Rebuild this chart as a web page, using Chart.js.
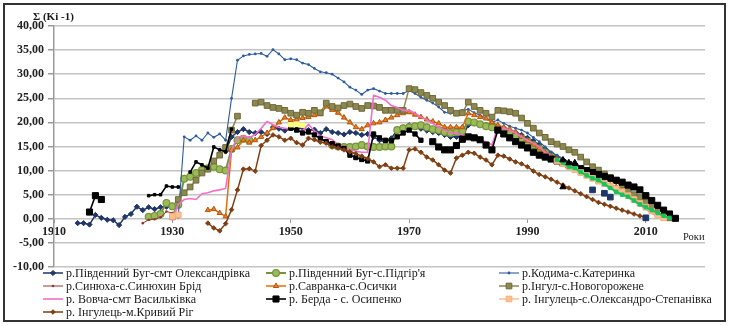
<!DOCTYPE html>
<html>
<head>
<meta charset="utf-8">
<script src="https://cdn.jsdelivr.net/npm/chart.js@4.4.1/dist/chart.umd.min.js"></script>
<style>
  html, body { margin: 0; padding: 0; background: #ffffff; }
  canvas { display: block; }
</style>
</head>
<body>
<canvas id="chart" width="729" height="326"></canvas>
<script>
// Axis labels
const xTickYears = [1910, 1930, 1950, 1970, 1990, 2010];
const yAxisCaption = 'Σ (Ki -1)';
const xAxisCaption = 'Роки';

// Cumulative sums Σ(Ki-1), one value per year from the start year (null = no data)
const oleksandrivkaStart = 1914;
const oleksandrivka = [
  -0.9, -0.9, -1.2, 0.8, 0.2, -0.2, -0.3, -1.3, 0.4, 1.0, 2.5, 1.8, 2.4, 2.0, 2.4, 2.5,
  null, null, null, null, null, null, null, null, null,
  14.0, 17.0, 18.0, 18.6, 18.0, 17.8, 18.0, 17.6, 19.0, 18.7,
  18.3, 18.8, 18.6, 18.9, 18.4, 18.5, 17.8, 18.6, 18.0, 17.8,
  17.5, 18.0, 17.8, 17.4, 17.6, 17.0, 16.3, 16.0, 16.7, 18.4,
  18.9, 19.4, 19.0, 18.7, 18.3, 18.0, 17.8, 17.4, 17.0, 17.0,
  17.2, 19.4, 19.8, 19.6, 19.5, 19.8, 19.2, 18.8, 18.3, 17.9,
  17.4, 16.8, 16.2, 15.4, 14.5, 13.6, 12.8, 12.0
];

const pidhiryaStart = 1926;
const pidhirya = [
  0.4, 0.6, 1.0, 3.3, 2.6, 2.9, 8.3, 8.7, 9.5, 10.1,
  10.5, 10.8, 10.3, 10.0, 14.5, 16.3, 16.6, 16.3,
  null, null, null, null, null, null, null, null, null, null, null, null, null,
  15.3, 15.0, 14.9, 14.9, 15.0, 15.3, 15.0, 14.9, 14.9, 15.0,
  15.0, 18.4, 18.8, 19.0, 19.2, 19.4, 19.0, 18.6, 18.4, 18.0,
  17.8, 18.0, 18.2, 20.2, 20.0, 19.6, 19.2, 19.0, 18.6, 18.2,
  17.8, 17.2, 16.6, 16.0, 15.3, 14.6, 13.8, 13.0
];

const katerynkaStart = 1931;
const katerynka = [
  0.5, 17.0, 16.3, 17.2, 16.3, 17.8, 16.9, 17.6, 16.3, 25.0,
  32.9, 33.8, 34.1, 34.2, 34.3, 33.7, 35.1, 34.2, 33.0, 33.2,
  33.0, 32.3, 32.0, 31.2, 30.5, 30.3, 30.0, 29.2, 28.4, 27.3,
  26.7, 25.8, 26.7, 27.0, 26.5, 26.0, 26.0, 26.0, 26.0, 26.6,
  26.0, 25.2, 24.6, 24.0, 23.2, 22.1, 21.9, 21.9, 22.5, 22.7,
  22.0, 21.5, 20.8, 20.0, 20.5, 19.8, 19.2, 18.8, 18.4, 17.8,
  16.9, 16.0, 14.9, 13.8, 13.2, 12.5, 11.8, 11.2, 10.5, 9.8
];

const syniukhaStart = 1925;
const syniukha = [-0.9, -0.2, -0.1, 0.3, 1.5, 1.2, 0.3];

const osychkyStart = 1936;
const osychky = [
  1.8, 2.0, 1.2, 0.5, 14.3, 14.8, 16.3, 15.8, 16.3, 17.0,
  17.8, 18.8, 20.0, 21.0, 20.5, 20.6, 20.9, 21.1, 21.5, 21.7,
  23.3, 22.6, 22.0, 21.0, 20.0, 19.0, 18.6, 19.4, 19.8, 20.0,
  20.5, 21.0, 21.5, 21.9, 22.1, 21.6, 21.1, 20.6, 20.2, 19.8,
  19.0, 19.0, 19.0, 19.0, 21.9, 21.5, 21.1, 20.8, 20.0, 19.4,
  19.0, 18.6, 18.0, 17.0, 16.2, 15.4, 14.6, 13.7, 13.0, 12.4,
  11.8, 11.2, 10.6, 10.0, 9.4, 8.8, 8.2, 7.6, 7.0, 6.6,
  6.0, 5.2, 4.4, 3.6, 2.8, 2.0, 1.2, 0.4
];

const novohorozheneStart = 1930;
const novohorozhene = [
  0.4, 4.0, 5.4, 6.6, 8.0, 9.5, 10.3, 12.0, 13.2, 14.8,
  18.4, 21.3, null, null, 24.0, 24.2, 23.5, 23.1, 22.9, 22.5,
  21.9, 21.5, 22.1, 21.9, 22.5, 22.0, 24.0, 23.3, 23.0, 23.5,
  23.8, 23.3, 22.9, 23.5, 23.4, 23.1, 22.5, 22.5, 22.5, 22.5,
  27.0, 26.8, 26.2, 25.6, 25.0, 24.2, 23.5, 22.5, 21.9, 22.0,
  24.2, 23.3, 22.5, 21.9, 21.1, 22.5, 22.4, 22.2, 21.9, 20.9,
  19.8, 18.8, 17.8, 16.9, 16.0, 15.5, 15.0, 14.3, 13.8, 12.8,
  11.8, 10.8, 10.1, 9.3, 8.6, 7.9, 7.0, 5.8, 5.0, 4.4,
  3.4, 2.8, 1.6, 0.9, 0.2
];

const vasylkivkaStart = 1930;
const vasylkivka = [
  -0.4, 3.0, 4.0, 4.2, 4.0, 5.2, 5.4, 5.8, 6.0, 6.3,
  14.3, 16.9, 17.2, 16.8, 17.5, 18.8, 20.2, 19.5, 19.0, 18.8,
  18.6, 18.4, 18.3, 19.6, 18.2, 17.2, 16.8, 16.4, 15.4, 15.0,
  14.4, 14.0, 13.8, 13.8, 25.6, 25.2, 24.6, 23.5, 23.1, 22.5,
  22.5, 21.9, 21.1, 20.5, 19.8, 19.0, 18.4, 17.8, 17.8, 17.4,
  17.0, 16.7, 16.3, 16.0, 15.3, 19.0, 18.8, 18.4, 17.8, 17.0,
  16.3, 15.7, 14.9, 13.8, 13.0, 12.3, 11.6, 11.0, 10.4, 9.8,
  9.1, 8.5, 7.9, 7.2, 6.6, 6.0, 5.2, 4.4, 3.6, 2.8,
  2.0, 1.2, 0.4
];

const osypenkoStart = 1916;
const osypenko = [
  1.4, 4.8, 4.0, null, null, null, null, null, null, null,
  4.8, 5.0, 5.0, 6.8, 6.6, 6.6, null, 9.7, 11.8, 11.2,
  10.5, 14.9, 14.3, 13.9, 18.6, null, null, null, null, null,
  null, null, null, null, 18.8, 18.4, 17.8, 18.0, 17.4, 16.7,
  16.0, 15.6, 15.1, 14.6, 13.2, 12.7, 12.3, 12.0, 17.6, 16.8,
  16.3, 16.2, 17.0, 17.8, 18.4, 17.6, 16.3, null, 16.0, 14.9,
  14.3, 14.3, 15.2, 16.5, 17.0, 16.8, 16.4, 15.3, 14.3, 18.4,
  17.6, 16.8, 16.0, 15.3, 14.7, 13.8, 13.2, 12.8, 12.4, 12.0,
  11.6, 11.2, 10.8, 10.4, 10.0, 9.6, 9.2, 8.8, 8.4, 8.0,
  7.6, 7.0, 6.6, 6.0, 4.8, 3.8, 2.8, 1.8, 1.0, 0.1
];

const stepanivkaYears = [1930, 1931, 1932,
  1995, 1996, 1997, 1998, 1999, 2000, 2001, 2002, 2003, 2004,
  2005, 2006, 2007, 2008, 2009, 2010, 2011, 2012, 2013];
const stepanivka = [0.5, 0.8, null,
  12.0, 11.4, 10.8, 10.2, 9.6, 9.0, 8.4, 7.8, 7.3, 6.8,
  6.2, 5.6, 4.8, 4.0, 3.2, 2.4, 1.6, 0.8, 0.2];

const kryvyiRihStart = 1936;
const kryvyiRih = [
  -0.9, -1.9, -2.5, -1.0, 1.9, 6.0, 10.3, 10.4, 9.9, 15.2,
  16.3, 17.4, 17.0, 16.3, 16.7, 15.8, 15.3, 16.7, 16.4, 15.9,
  15.7, 14.9, 14.7, 14.3, 13.9, 13.5, 13.0, 12.5, 11.8, 10.8,
  11.2, 10.5, 10.5, 10.5, 14.3, 14.5, 13.8, 12.8, 12.2, 11.2,
  10.1, 9.5, 12.6, 13.2, 13.8, 13.6, 12.8, 12.2, 11.2, 13.2,
  13.0, 12.4, 11.8, 11.4, 10.8, 9.9, 9.2, 8.7, 8.2, 7.6,
  7.0, 6.4, 5.8, 5.2, 4.6, 4.0, 3.4, 3.0, 2.6, 2.2,
  1.8, 1.4, 1.0, 0.6, 0.2
];

// Further gauges plotted without a legend entry
const greenGaugeStart = 1995;
const greenGauge = [12.2, 11.6, 10.8, 10.5, 9.7, 9.0, 8.4, 8.0, 7.2, 6.4,
  5.6, 5.0, 4.6, 3.8, 3.0, 2.4, 1.8, 1.2, 0.6, 0.2];
const triangleGaugeYears = [1996, 1997, 1998, 1996];
const triangleGauge = [12.2, 11.6, 11.6, 6.6];
const squareGaugeYears = [2001, 2003, 2004, 2010];
const squareGauge = [6.0, 5.3, 4.5, 0.2];
const yellowGaugeYears = [1950, 1951, 1952];
const yellowGauge = [19.5, 19.6, 19.4];

function seq(start, values) {
  return values.map((v, i) => ({ x: start + i, y: v }));
}
function at(years, values) {
  return years.map((yr, i) => ({ x: yr, y: values[i] }));
}

const SERIF = '"Liberation Serif", "Times New Roman", serif';

// Berda markers: small in the early record, medium in the 1950s-60s, large later
function berdaRadius(ctx) {
  const p = ctx.raw;
  if (!p) return 4.3;
  if (p.x >= 1920 && p.x <= 1941) return 1.8;
  if (p.x >= 1950 && p.x <= 1972) return 3;
  return 4.3;
}

const series = [
  { label: 'р.Південний Буг-смт Олександрівка', data: seq(oleksandrivkaStart, oleksandrivka),
    borderColor: '#1f3668', borderWidth: 1.5, pointStyle: 'rectRot', pointRadius: 2.6,
    pointBackgroundColor: '#1f3668', pointBorderColor: '#1f3668', pointBorderWidth: 1 },
  { label: "р.Південний Буг-с.Підгір'я", data: seq(pidhiryaStart, pidhirya),
    borderColor: '#77933c', borderWidth: 2, pointStyle: 'circle', pointRadius: 3.4,
    pointBackgroundColor: '#9bbb59', pointBorderColor: '#77933c', pointBorderWidth: 1.2 },
  { label: 'р.Кодима-с.Катеринка', data: seq(katerynkaStart, katerynka),
    borderColor: '#2e5c9e', borderWidth: 1.1, pointStyle: 'circle', pointRadius: 1.4,
    pointBackgroundColor: '#2e5c9e', pointBorderColor: '#2e5c9e', pointBorderWidth: 0 },
  { label: 'р.Синюха-с.Синюхин Брід', data: seq(syniukhaStart, syniukha),
    borderColor: '#953735', borderWidth: 1, pointStyle: 'circle', pointRadius: 1.3,
    pointBackgroundColor: '#953735', pointBorderColor: '#953735', pointBorderWidth: 0 },
  { label: 'р.Савранка-с.Осички', data: seq(osychkyStart, osychky),
    borderColor: '#e46c0a', borderWidth: 1.5, pointStyle: 'triangle', pointRadius: 3,
    pointBackgroundColor: '#e87d2a', pointBorderColor: '#b4560b', pointBorderWidth: 1 },
  { label: 'р.Інгул-с.Новогорожене', data: seq(novohorozheneStart, novohorozhene),
    borderColor: '#8c8850', borderWidth: 1.5, pointStyle: 'rect', pointRadius: 4,
    pointBackgroundColor: '#8c8850', pointBorderColor: '#6e6a3a', pointBorderWidth: 1 },
  { label: 'р. Вовча-смт Васильківка', data: seq(vasylkivkaStart, vasylkivka),
    borderColor: '#f26ec8', borderWidth: 1.6, pointStyle: 'circle', pointRadius: 0,
    pointBackgroundColor: '#f26ec8', pointBorderColor: '#f26ec8', pointBorderWidth: 0 },
  { label: 'р. Берда - с. Осипенко', data: seq(osypenkoStart, osypenko),
    borderColor: '#000000', borderWidth: 1.6, pointStyle: 'rect', pointRadius: berdaRadius,
    legendRadius: 4.3,
    pointBackgroundColor: '#000000', pointBorderColor: '#000000', pointBorderWidth: 1 },
  { label: 'р. Інгулець-с.Олександро-Степанівка', data: at(stepanivkaYears, stepanivka),
    borderColor: '#fac090', borderWidth: 1.5, pointStyle: 'rect', pointRadius: 4,
    pointBackgroundColor: '#fac090', pointBorderColor: '#f5b27c', pointBorderWidth: 1 },
  { label: 'р. Інгулець-м.Кривий Ріг', data: seq(kryvyiRihStart, kryvyiRih),
    borderColor: '#7f3f12', borderWidth: 1.5, pointStyle: 'rectRot', pointRadius: 2.3,
    pointBackgroundColor: '#7f3f12', pointBorderColor: '#7f3f12', pointBorderWidth: 1 },
  { label: 'green', inLegend: false, data: seq(greenGaugeStart, greenGauge),
    borderColor: '#16c35a', borderWidth: 2, pointStyle: 'rect', pointRadius: 2.4,
    pointBackgroundColor: '#16c35a', pointBorderColor: '#16c35a', pointBorderWidth: 1 },
  { label: 'triangles', inLegend: false, data: at(triangleGaugeYears, triangleGauge), showLine: false,
    borderColor: '#000000', borderWidth: 1, pointStyle: 'triangle', pointRadius: 3.6,
    pointBackgroundColor: '#000000', pointBorderColor: '#000000', pointBorderWidth: 1 },
  { label: 'squares', inLegend: false, data: at(squareGaugeYears, squareGauge), showLine: false,
    borderColor: '#1f3668', borderWidth: 1, pointStyle: 'rect', pointRadius: 4,
    pointBackgroundColor: '#1f3668', pointBorderColor: '#1f3668', pointBorderWidth: 1 },
  { label: 'yellow', inLegend: false, data: at(yellowGaugeYears, yellowGauge),
    borderColor: '#ffff80', borderWidth: 4, pointStyle: 'rect', pointRadius: 3,
    pointBackgroundColor: '#ffff80', pointBorderColor: '#ffff80', pointBorderWidth: 1 }
];

const datasets = series.map((s, i) => Object.assign({
  showLine: true, spanGaps: false, fill: false, tension: 0,
  order: -i, pointHoverRadius: 0
}, s));

function drawMarker(ctx, style, r, x, y, fill, stroke, bw) {
  ctx.beginPath();
  if (style === 'circle') {
    ctx.arc(x, y, r, 0, Math.PI * 2);
  } else if (style === 'rect') {
    const s = r * Math.SQRT1_2;
    ctx.rect(x - s, y - s, 2 * s, 2 * s);
  } else if (style === 'rectRot') {
    ctx.moveTo(x - r, y); ctx.lineTo(x, y - r); ctx.lineTo(x + r, y); ctx.lineTo(x, y + r);
    ctx.closePath();
  } else if (style === 'triangle') {
    for (let k = 0; k < 3; k++) {
      const a = k * 2 * Math.PI / 3;
      const px = x + Math.sin(a) * r, py = y - Math.cos(a) * r;
      if (k === 0) ctx.moveTo(px, py); else ctx.lineTo(px, py);
    }
    ctx.closePath();
  }
  ctx.fillStyle = fill;
  ctx.fill();
  if (bw) { ctx.lineWidth = bw; ctx.strokeStyle = stroke; ctx.stroke(); }
}

// Captions, three-column legend and outer frame
const decorations = {
  id: 'decorations',
  afterDraw(chart) {
    const ctx = chart.ctx;
    ctx.save();
    ctx.fillStyle = '#1a1a1a';
    ctx.textBaseline = 'middle';
    ctx.textAlign = 'left';
    ctx.font = 'bold 11px ' + SERIF;
    ctx.fillText(yAxisCaption, 33, 17.5);
    ctx.font = '10.5px ' + SERIF;
    ctx.fillText(xAxisCaption, 683, 237.5);

    const cols = [43, 266, 499];
    const rows = [273, 286, 299, 312];
    let k = 0;
    chart.data.datasets.forEach(ds => {
      if (ds.inLegend === false) return;
      const x0 = cols[k % 3], y0 = rows[Math.floor(k / 3)];
      k++;
      ctx.strokeStyle = ds.borderColor;
      ctx.lineWidth = ds.borderWidth;
      ctx.beginPath(); ctx.moveTo(x0, y0); ctx.lineTo(x0 + 20, y0); ctx.stroke();
      const r = typeof ds.pointRadius === 'number' ? ds.pointRadius : ds.legendRadius;
      if (r > 0) {
        drawMarker(ctx, ds.pointStyle, r, x0 + 10, y0,
          ds.pointBackgroundColor, ds.pointBorderColor, ds.pointBorderWidth);
      }
      ctx.fillStyle = '#1a1a1a';
      ctx.font = '12px ' + SERIF;
      ctx.fillText(ds.label, x0 + 23, y0 + 0.5);
    });

    ctx.strokeStyle = '#333333';
    ctx.lineWidth = 2;
    ctx.strokeRect(4, 4, 721, 317);
    ctx.restore();
  }
};

new Chart(document.getElementById('chart'), {
  type: 'scatter',
  data: { datasets },
  options: {
    responsive: false,
    animation: false,
    devicePixelRatio: 1,
    events: [],
    layout: { padding: { left: 0, right: 24, top: 26, bottom: 59 } },
    plugins: { legend: { display: false }, tooltip: { enabled: false }, title: { display: false } },
    scales: {
      x: {
        type: 'linear',
        position: { y: 0 },
        min: 1910,
        max: 2020,
        afterBuildTicks(scale) { scale.ticks = xTickYears.map(v => ({ value: v })); },
        ticks: {
          autoSkip: false, maxRotation: 0, padding: 2, color: '#222222',
          font: { family: SERIF, size: 12, weight: 'bold' },
          callback: v => String(v)
        },
        grid: { display: true, drawOnChartArea: false, drawTicks: true, tickLength: 4,
                color: '#9a9a9a', lineWidth: 1 },
        border: { display: false }
      },
      y: {
        type: 'linear',
        min: -10,
        max: 40,
        afterFit(scale) { scale.width = 54; },
        ticks: {
          stepSize: 5, padding: 4, color: '#222222',
          font: { family: SERIF, size: 12, weight: 'bold' },
          callback: v => v.toFixed(2).replace('.', ',')
        },
        grid: { color: '#c4c4c4', lineWidth: 1.5, tickLength: 6, tickColor: '#9a9a9a', drawTicks: true },
        border: { color: '#9a9a9a', width: 1.5 }
      }
    }
  },
  plugins: [decorations]
});
</script>
</body>
</html>
